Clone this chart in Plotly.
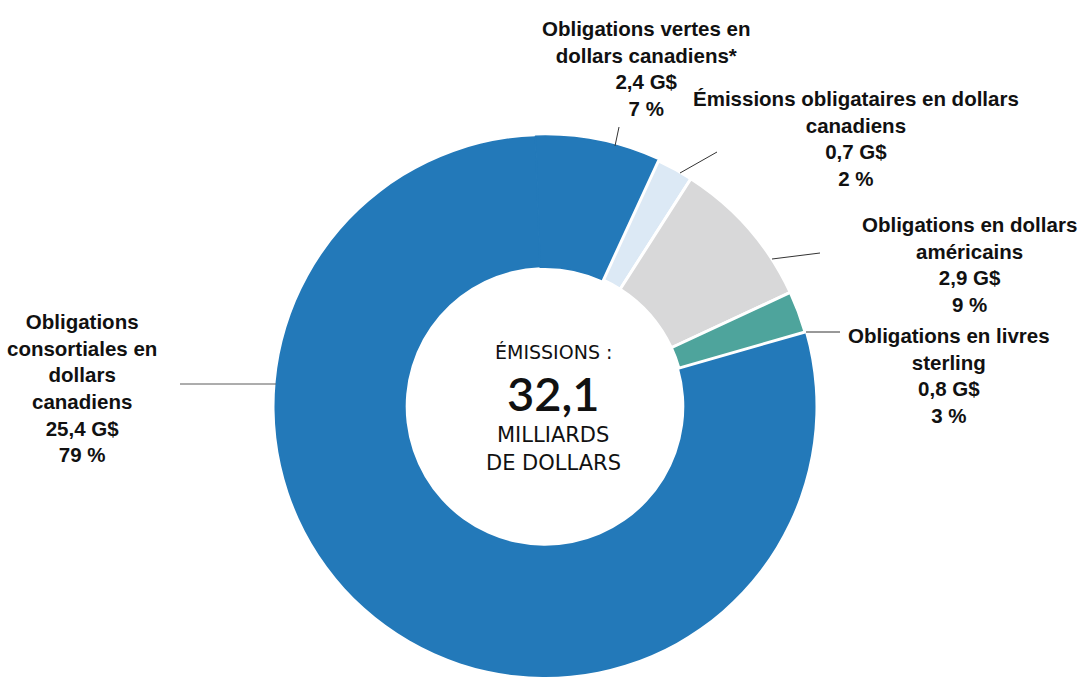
import plotly.graph_objects as go

# Émissions par type d'obligation (milliards de dollars)
categories = [
    "Obligations consortiales en dollars canadiens",
    "Obligations vertes en dollars canadiens*",
    "Émissions obligataires en dollars canadiens",
    "Obligations en dollars américains",
    "Obligations en livres sterling",
]
values = [25.4, 2.4, 0.7, 2.9, 0.8]
percents = [79, 7, 2, 9, 3]
value_text = ["25,4 G$", "2,4 G$", "0,7 G$", "2,9 G$", "0,8 G$"]
label_lines = [
    "Obligations<br>consortiales en<br>dollars<br>canadiens",
    "Obligations vertes en<br>dollars canadiens*",
    "Émissions obligataires en dollars<br>canadiens",
    "Obligations en dollars<br>américains",
    "Obligations en livres<br>sterling",
]
colors = ["#2379B9", "#2379B9", "#DCE9F5", "#D8D8D9", "#4EA49C"]
border_colors = ["white", "#2379B9", "white", "white", "white"]
border_widths = [0, 1.5, 3, 3, 3]

center_title = "ÉMISSIONS :"
center_total = "32,1"
center_unit = ["MILLIARDS", "DE DOLLARS"]

W, H = 1079, 677


def px(x):
    return x / W


def py(y):
    return 1 - y / H


fig = go.Figure()
fig.add_trace(go.Pie(
    labels=categories,
    values=values,
    sort=False,
    direction="clockwise",
    rotation=74,
    hole=0.515,
    marker=dict(colors=colors, line=dict(color=border_colors, width=border_widths)),
    textinfo="none",
    hoverinfo="label+value",
    showlegend=False,
    domain=dict(x=[px(545 - 270.5), px(545 + 270.5)], y=[0, py(136)]),
))

label_font = dict(family="Liberation Sans, Arial, sans-serif",
                  size=20.5, color="#111111", weight="bold")

# label block centres and leader lines (pixel positions on the page)
label_pos = [(82, 388), (646, 68), (856, 138), (969, 264), (949, 375)]
leaders = [
    ((180, 384), (276, 384)),
    ((619, 127), (615, 146)),
    ((717, 152), (680, 173)),
    ((820, 253), (772, 259)),
    ((840, 332), (806, 332)),
]
leader_colors = ["#5a5a5a", "#333333", "#333333", "#333333", "#333333"]

for i in range(len(categories)):
    text = f"{label_lines[i]}<br>{value_text[i]}<br>{percents[i]} %"
    x, y = label_pos[i]
    fig.add_annotation(
        x=px(x), y=py(y), xref="paper", yref="paper",
        text=text, showarrow=False, align="center",
        xanchor="center", yanchor="middle", font=label_font,
    )
    (x0, y0), (x1, y1) = leaders[i]
    fig.add_shape(
        type="line", xref="paper", yref="paper",
        x0=px(x0), y0=py(y0), x1=px(x1), y1=py(y1),
        line=dict(color=leader_colors[i], width=1),
    )

center_font = "DejaVu Sans, Open Sans, sans-serif"
center_items = [
    (center_title, 352, dict(family=center_font, size=19, color="#111111")),
    (center_total, 393, dict(family="Lato, Open Sans, sans-serif", size=47,
                             color="#111111", weight=600)),
    (center_unit[0], 435, dict(family=center_font, size=21, color="#111111")),
    (center_unit[1], 463, dict(family=center_font, size=21, color="#111111")),
]
for text, y, font in center_items:
    fig.add_annotation(
        x=px(553), y=py(y), xref="paper", yref="paper", text=text,
        showarrow=False, xanchor="center", yanchor="middle", font=font,
    )

fig.update_layout(
    width=W, height=H,
    margin=dict(l=0, r=0, t=0, b=0),
    paper_bgcolor="white",
    plot_bgcolor="white",
)

fig.write_html("out.html")
